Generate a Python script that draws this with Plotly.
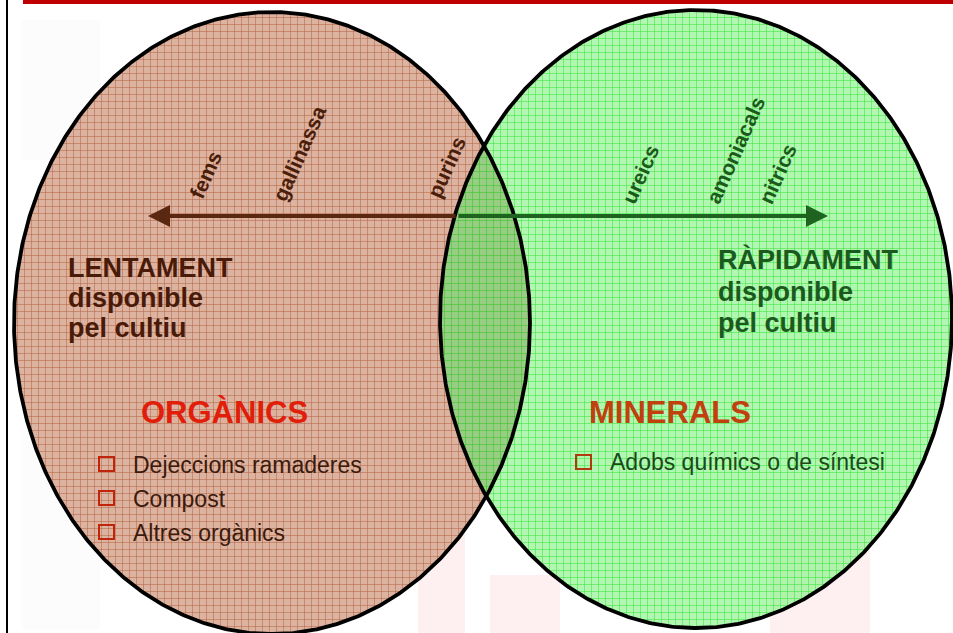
import numpy as np
import plotly.graph_objects as go

# ---- content ----
left_arrow_labels = ["fems", "gallinassa", "purins"]
right_arrow_labels = ["ureics", "amoniacals", "nitrics"]
left_title_lines = ["LENTAMENT", "disponible", "pel cultiu"]
right_title_lines = ["RÀPIDAMENT", "disponible", "pel cultiu"]
left_group = "ORGÀNICS"
right_group = "MINERALS"
left_items = ["Dejeccions ramaderes", "Compost", "Altres orgànics"]
right_items = ["Adobs químics o de síntesi"]

# ---- geometry (pixel space, y downward) ----
W, H = 953, 633
L_ell = dict(cx=272, cy=323, rx=258, ry=311)
R_ell = dict(cx=696, cy=319, rx=256, ry=309)

def ell_pts(e, t):
    return e["cx"] + e["rx"] * np.cos(t), e["cy"] + e["ry"] * np.sin(t)

def inside(e, x, y):
    return ((x - e["cx"]) / e["rx"]) ** 2 + ((y - e["cy"]) / e["ry"]) ** 2 <= 1

t = np.linspace(0, 2 * np.pi, 721)
lx, ly = ell_pts(L_ell, t)
rx_, ry_ = ell_pts(R_ell, t)

# lens (overlap)
ta = np.linspace(-np.pi, np.pi, 2001)
ax_, ay_ = ell_pts(L_ell, ta)
m1 = inside(R_ell, ax_, ay_)
tb = np.linspace(0, 2 * np.pi, 2001)
bx_, by_ = ell_pts(R_ell, tb)
m2 = inside(L_ell, bx_, by_)
lens_x = np.concatenate([ax_[m1], bx_[m2]])
lens_y = np.concatenate([ay_[m1], by_[m2]])

fig = go.Figure()

fig.add_trace(go.Scatter(
    x=lx, y=ly, mode="lines", fill="toself", line=dict(width=0),
    fillcolor="#DAB09E",
    fillpattern=dict(shape="+", size=7, solidity=0.14, fgcolor="#B3623F",
                     bgcolor="#DCB2A0", fillmode="replace"),
    hoverinfo="skip", showlegend=False))
fig.add_trace(go.Scatter(
    x=rx_, y=ry_, mode="lines", fill="toself", line=dict(width=0),
    fillcolor="rgba(140,240,140,0.75)",
    fillpattern=dict(shape="+", size=7, solidity=0.14, fgcolor="rgba(40,228,40,0.92)",
                     bgcolor="rgba(150,242,150,0.75)", fillmode="replace"),
    hoverinfo="skip", showlegend=False))
fig.add_trace(go.Scatter(
    x=lens_x, y=lens_y, mode="lines", fill="toself", line=dict(width=0),
    fillcolor="rgba(60,100,20,0.16)", hoverinfo="skip", showlegend=False))
for xx, yy in [(lx, ly), (rx_, ry_)]:
    fig.add_trace(go.Scatter(x=xx, y=yy, mode="lines",
                             line=dict(color="black", width=3.8),
                             hoverinfo="skip", showlegend=False))

shapes = []
# faint watermark blobs
for (x0, y0, x1, y1, c) in [
    (22, 20, 100, 160, "rgba(230,230,230,0.12)"),
    (22, 430, 100, 630, "rgba(230,230,230,0.12)"),
    (418, 525, 465, 633, "rgba(250,200,200,0.28)"),
    (490, 575, 560, 633, "rgba(250,200,200,0.28)"),
    (770, 520, 870, 633, "rgba(250,200,200,0.28)"),
]:
    shapes.append(dict(type="rect", xref="x", yref="y", x0=x0, y0=y0, x1=x1, y1=y1,
                       fillcolor=c, line=dict(width=0), layer="below"))
# frame: top red bar and left black line
shapes.append(dict(type="rect", xref="x", yref="y", x0=23, y0=0, x1=W, y1=4,
                   fillcolor="#C00000", line=dict(width=0)))
shapes.append(dict(type="line", xref="x", yref="y", x0=7, y0=0, x1=7, y1=H,
                   line=dict(color="black", width=2)))

annotations = []
# arrows
annotations.append(dict(x=148, y=216, ax=457, ay=216, xref="x", yref="y", axref="x", ayref="y",
                        text="", showarrow=True, arrowhead=2, arrowsize=1.1, arrowwidth=4,
                        arrowcolor="#5A2810"))
annotations.append(dict(x=828, y=216, ax=457, ay=216, xref="x", yref="y", axref="x", ayref="y",
                        text="", showarrow=True, arrowhead=2, arrowsize=1.1, arrowwidth=4,
                        arrowcolor="#1E6420"))

FONT = "Liberation Sans, Arial, sans-serif"
brown = "#4A1E0A"
dgreen = "#1A5A1A"

left_lab_pos = [(205, 175), (299, 153), (446, 167)]
right_lab_pos = [(640, 174), (735, 150), (777, 174)]
for lab, (x, y) in zip(left_arrow_labels, left_lab_pos):
    annotations.append(dict(x=x, y=y, text="<b>" + lab + "</b>", showarrow=False, textangle=-66,
                            font=dict(family=FONT, size=21, color=brown)))
for lab, (x, y) in zip(right_arrow_labels, right_lab_pos):
    annotations.append(dict(x=x, y=y, text="<b>" + lab + "</b>", showarrow=False, textangle=-66,
                            font=dict(family=FONT, size=21, color=dgreen)))

for line, y in zip(left_title_lines, [268, 298, 328]):
    annotations.append(dict(x=66, y=y, text="<b>" + line + "</b>", showarrow=False,
                            xanchor="left", font=dict(family=FONT, size=27, color="#4A1A08")))
for line, y in zip(right_title_lines, [259, 292, 323]):
    annotations.append(dict(x=716, y=y, text="<b>" + line + "</b>", showarrow=False,
                            xanchor="left", font=dict(family=FONT, size=27, color="#1B5A1D")))

annotations.append(dict(x=224, y=412, text="<b>" + left_group + "</b>", showarrow=False,
                        font=dict(family=FONT, size=31, color="#E01E0A")))
annotations.append(dict(x=670, y=412, text="<b>" + right_group + "</b>", showarrow=False,
                        font=dict(family=FONT, size=31, color="#C0400E")))

for item, y, sq in zip(left_items, [465, 499, 533], [457, 491, 525]):
    annotations.append(dict(x=131, y=y, text=item, showarrow=False, xanchor="left",
                            font=dict(family=FONT, size=23, color="#3C1A0C")))
    shapes.append(dict(type="rect", xref="x", yref="y", x0=99, y0=sq, x1=114, y1=sq + 14,
                       line=dict(color="#C0240A", width=2), fillcolor="rgba(0,0,0,0)"))
for item, y, sq in zip(right_items, [462], [455]):
    annotations.append(dict(x=608, y=y, text=item, showarrow=False, xanchor="left",
                            font=dict(family=FONT, size=23, color="#1A4A1A")))
    shapes.append(dict(type="rect", xref="x", yref="y", x0=576, y0=sq, x1=591, y1=sq + 14,
                       line=dict(color="#B03A10", width=2), fillcolor="rgba(0,0,0,0)"))

fig.update_layout(
    width=W, height=H, margin=dict(l=0, r=0, t=0, b=0),
    paper_bgcolor="white", plot_bgcolor="white",
    xaxis=dict(range=[0, W], visible=False, fixedrange=True),
    yaxis=dict(range=[H, 0], visible=False, fixedrange=True),
    shapes=shapes, annotations=annotations, showlegend=False,
)
fig.write_html("out.html", config={"displayModeBar": False},
               post_script="document.body.style.margin='0';document.body.style.padding='0';"
                           "document.body.style.overflow='hidden';")
